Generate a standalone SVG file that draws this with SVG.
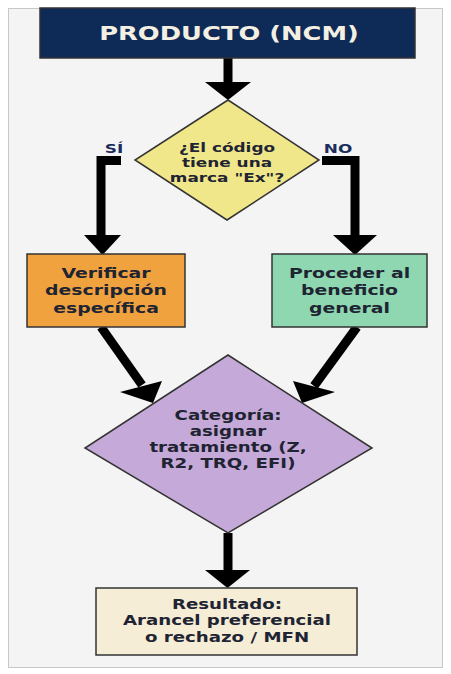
<svg xmlns="http://www.w3.org/2000/svg" width="451" height="674" viewBox="0 0 451 674">
  <style>
    .t { font-family: "DejaVu Sans", "Liberation Sans", sans-serif; font-weight: bold; text-anchor: middle; fill: #1f2433; }
    .lbl { font-family: "DejaVu Sans", "Liberation Sans", sans-serif; font-weight: bold; text-anchor: middle; fill: #1b2d5c; font-size: 13px; }
    .box { stroke: #333333; stroke-width: 1.5; }
    .shaft { fill: none; stroke: #000000; stroke-width: 9; stroke-linejoin: miter; }
    .head { fill: #000000; }
  </style>
  <rect x="8.5" y="8.5" width="434" height="659" fill="#f4f4f4" stroke="#c8c8c8" stroke-width="1"/>

  <g id="connectors">
    <line class="shaft" x1="228" y1="58" x2="228" y2="84"/>
    <polygon class="head" points="205,82 251,82 228,100"/>
    <polyline class="shaft" points="121,160.5 101,160.5 101,237"/>
    <polygon class="head" points="84,235 121,235 102.5,255"/>
    <polyline class="shaft" points="322,160.5 355,160.5 355,237"/>
    <polygon class="head" points="333,235 377,235 355,255"/>
    <line class="shaft" x1="101" y1="327" x2="142" y2="385"/>
    <polygon class="head" points="120,392 162,381 153,403"/>
    <line class="shaft" x1="357" y1="327" x2="314" y2="386"/>
    <polygon class="head" points="293,381 335,392 302,403"/>
    <line class="shaft" x1="228" y1="533" x2="228" y2="572"/>
    <polygon class="head" points="205,570 250,570 227.5,588"/>
  </g>

  <g id="producto">
    <rect class="box" x="40" y="8" width="375" height="50" fill="#0e2a57"/>
    <g transform="translate(229,0) scale(1.32,1)">
      <text class="t" x="0" y="40" font-size="19.5" fill="#f3efe2" style="fill:#f3efe2">PRODUCTO (NCM)</text>
    </g>
  </g>

  <g id="decision">
    <polygon class="box" points="228,100 319,160 227,220 135,160" fill="#f0e68a"/>
    <g transform="translate(227,0) scale(1.3,1)">
      <text class="t" x="0" y="152" font-size="13">¿El código</text>
      <text class="t" x="0" y="167" font-size="13">tiene una</text>
      <text class="t" x="0" y="182" font-size="13">marca "Ex"?</text>
    </g>
  </g>

  <g id="label-si">
    <g transform="translate(114,0) scale(1.3,1)"><text class="lbl" x="0" y="153">SÍ</text></g>
  </g>
  <g id="label-no">
    <g transform="translate(338,0) scale(1.3,1)"><text class="lbl" x="0" y="153">NO</text></g>
  </g>

  <g id="verificar">
    <rect class="box" x="27" y="254" width="158" height="73" fill="#f0a23f"/>
    <g transform="translate(106,0) scale(1.3,1)">
      <text class="t" x="0" y="278" font-size="14.5">Verificar</text>
      <text class="t" x="0" y="295.5" font-size="14.5">descripción</text>
      <text class="t" x="0" y="313" font-size="14.5">específica</text>
    </g>
  </g>

  <g id="proceder">
    <rect class="box" x="272" y="254" width="155" height="73" fill="#8fd7b0"/>
    <g transform="translate(349.5,0) scale(1.3,1)">
      <text class="t" x="0" y="278" font-size="14.5">Proceder al</text>
      <text class="t" x="0" y="295.5" font-size="14.5">beneficio</text>
      <text class="t" x="0" y="313" font-size="14.5">general</text>
    </g>
  </g>

  <g id="categoria">
    <polygon class="box" points="228,355 372,448 228,533 85,448" fill="#c5a9d8"/>
    <g transform="translate(228,0) scale(1.3,1)">
      <text class="t" x="0" y="420" font-size="14">Categoría:</text>
      <text class="t" x="0" y="436" font-size="14">asignar</text>
      <text class="t" x="0" y="452" font-size="14">tratamiento (Z,</text>
      <text class="t" x="0" y="468" font-size="14">R2, TRQ, EFI)</text>
    </g>
  </g>

  <g id="resultado">
    <rect class="box" x="96" y="588" width="261" height="67" fill="#f5edd5"/>
    <g transform="translate(227,0) scale(1.3,1)">
      <text class="t" x="0" y="609" font-size="14">Resultado:</text>
      <text class="t" x="0" y="625.5" font-size="14">Arancel preferencial</text>
      <text class="t" x="0" y="642" font-size="14">o rechazo / MFN</text>
    </g>
  </g>
</svg>
